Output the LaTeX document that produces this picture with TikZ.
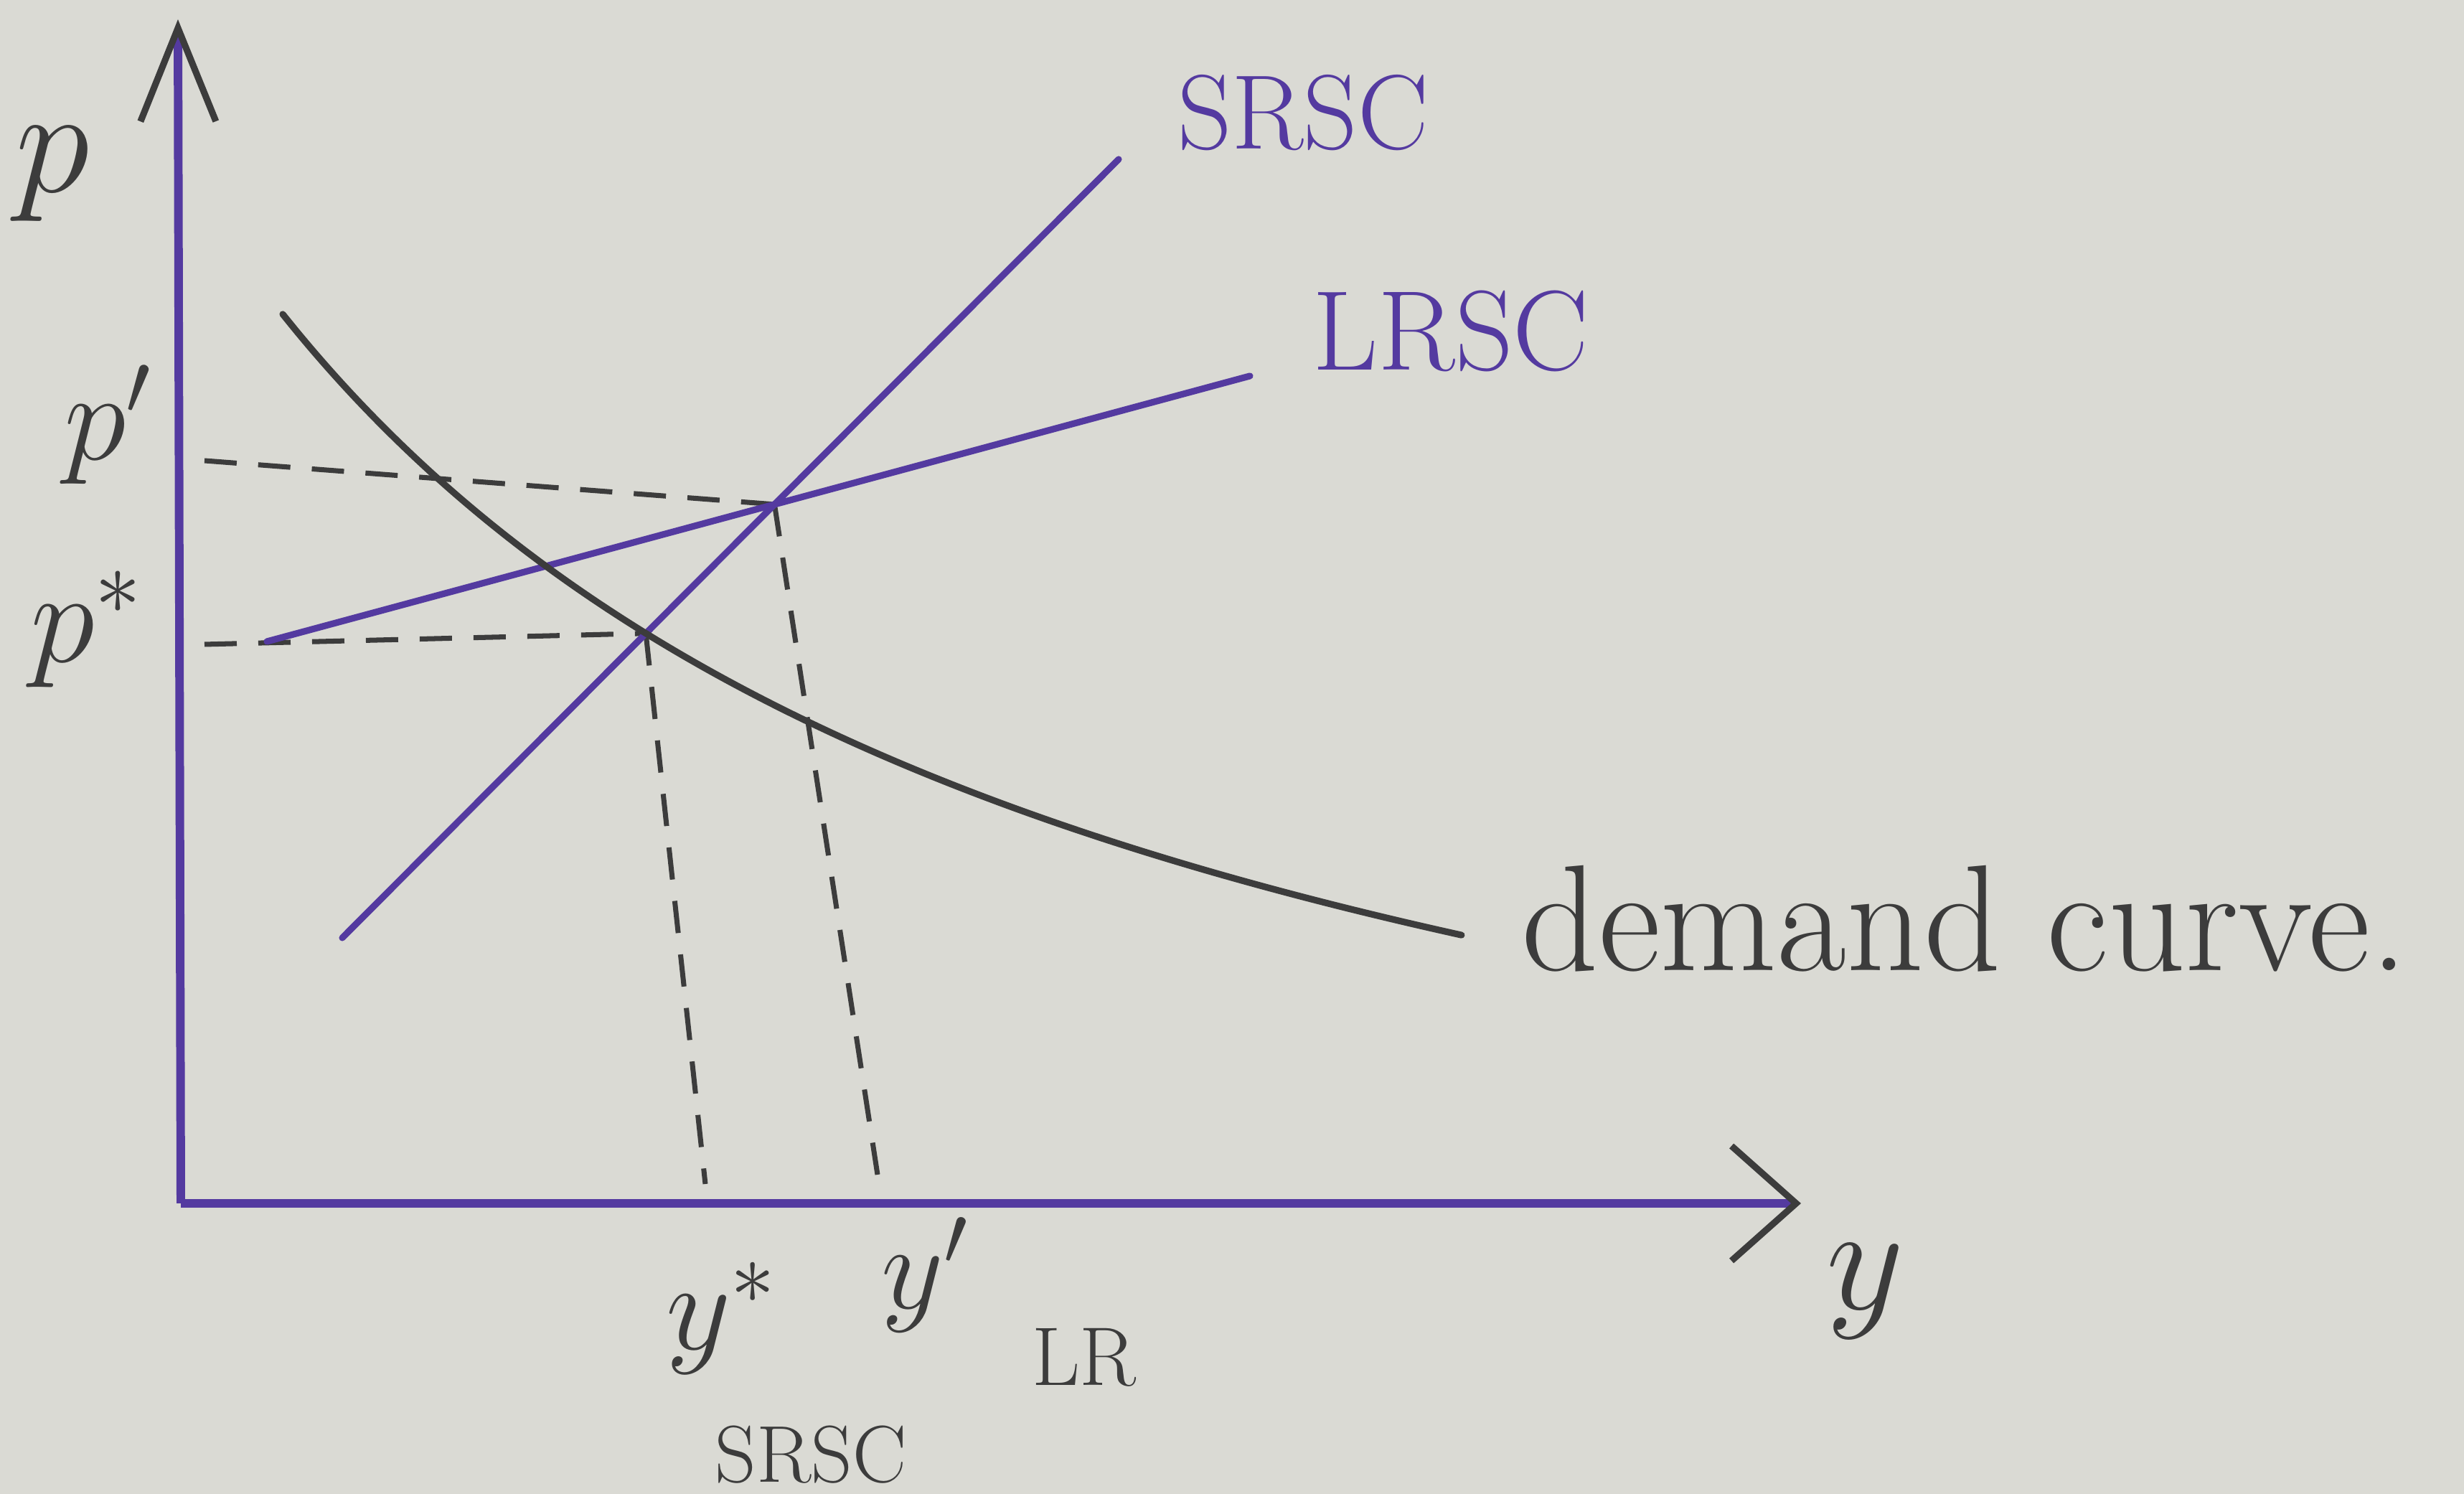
\RequirePackage{fix-cm}
\documentclass[tikz,border=0pt]{standalone}
\usepackage{fontspec}
\usetikzlibrary{arrows.meta,intersections}
\definecolor{paper}{RGB}{218,218,212}
\definecolor{penblue}{RGB}{84,58,160}
\definecolor{pencil}{RGB}{60,60,60}
\newcommand{\fsize}[1]{\fontsize{#1}{#1}\selectfont}
\begin{document}
\begin{tikzpicture}[
    axis/.style={penblue, line width=3.4pt},
    cost/.style={penblue, line width=2.6pt, line cap=round},
    demand/.style={pencil, line width=2.6pt, line cap=round},
    guide/.style={pencil, line width=2pt, dash pattern=on 0.45cm off 0.3cm},
    lbl/.style={text=pencil, inner sep=0pt},
    costlbl/.style={text=penblue, inner sep=0pt}]
    \fill[paper] (0,0) rectangle (34.34,20.82);
    % curve end points
    \coordinate (O)  at (2.52,4.05);
    \coordinate (s0) at (4.77,7.75);
    \coordinate (s1) at (15.59,18.60);
    \coordinate (l0) at (3.72,11.88);
    \coordinate (l1) at (17.42,15.58);
    \path[name path=srsc] (s0) -- (s1);
    \path[name path=lrsc] (l0) -- (l1);
    \path[name path=dem] plot[domain=3.94:20.37, samples=80, smooth] (\x, {1.5+178.4/(\x+8)});
    \path[name intersections={of=srsc and lrsc, by=E1}];
    \path[name intersections={of=srsc and dem, by=E0}];
    % dashed guides
    \coordinate (pp) at (2.85,14.40);
    \coordinate (ps) at (2.85,11.84);
    \coordinate (ys) at (9.83,4.32);
    \coordinate (yp) at (12.25,4.32);
    \draw[guide] (pp) -- (E1);
    \draw[guide] (ps) -- (E0);
    \draw[guide] (E0) -- (ys);
    \draw[guide] (E1) -- (yp);
    % axes
    \draw[axis, -{Straight Barb[length=1.3cm, width=1.05cm, line width=2.6pt, color=pencil]}] (O) -- (2.48,20.55);
    \draw[axis, -{Straight Barb[length=0.9cm, width=1.6cm, line width=2.6pt, color=pencil]}] (O) -- (25.1,4.05);
    % cost curves and demand
    \draw[cost] (s0) -- (s1);
    \draw[cost] (l0) -- (l1);
    \draw[demand] plot[domain=3.94:20.37, samples=80, smooth] (\x, {1.5+178.4/(\x+8)});
    % labels
    \node[lbl, font=\fsize{60}] (plbl)  at (0.73,18.39) {$p$};
    \node[lbl, font=\fsize{50}] (pplbl) at (1.50,14.90) {$p'$};
    \node[lbl, font=\fsize{52}] (pslbl) at (1.20,12.05) {$p^*$};
    \node[lbl, font=\fsize{60}] (ylbl)  at (26.00,2.82) {$y$};
    \node[lbl, font=\fsize{50}] (yslbl) at (10.05,2.45) {$y^*$};
    \node[lbl, font=\fsize{48}] (yplbl) at (12.89,3.05) {$y'$};
    \node[lbl, font=\fsize{33}] (lr)    at (15.11,1.90) {LR};
    \node[lbl, font=\fsize{32}] (srscb) at (11.30,0.55) {SRSC};
    \node[costlbl, font=\fsize{42}] (srsc) at (18.16,19.25) {SRSC};
    \node[costlbl, font=\fsize{45}] (lrsc) at (20.22,16.20) {LRSC};
    \node[lbl, font=\fsize{60}] (dlbl) at (27.38,8.02) {demand curve.};
\end{tikzpicture}
\end{document}
